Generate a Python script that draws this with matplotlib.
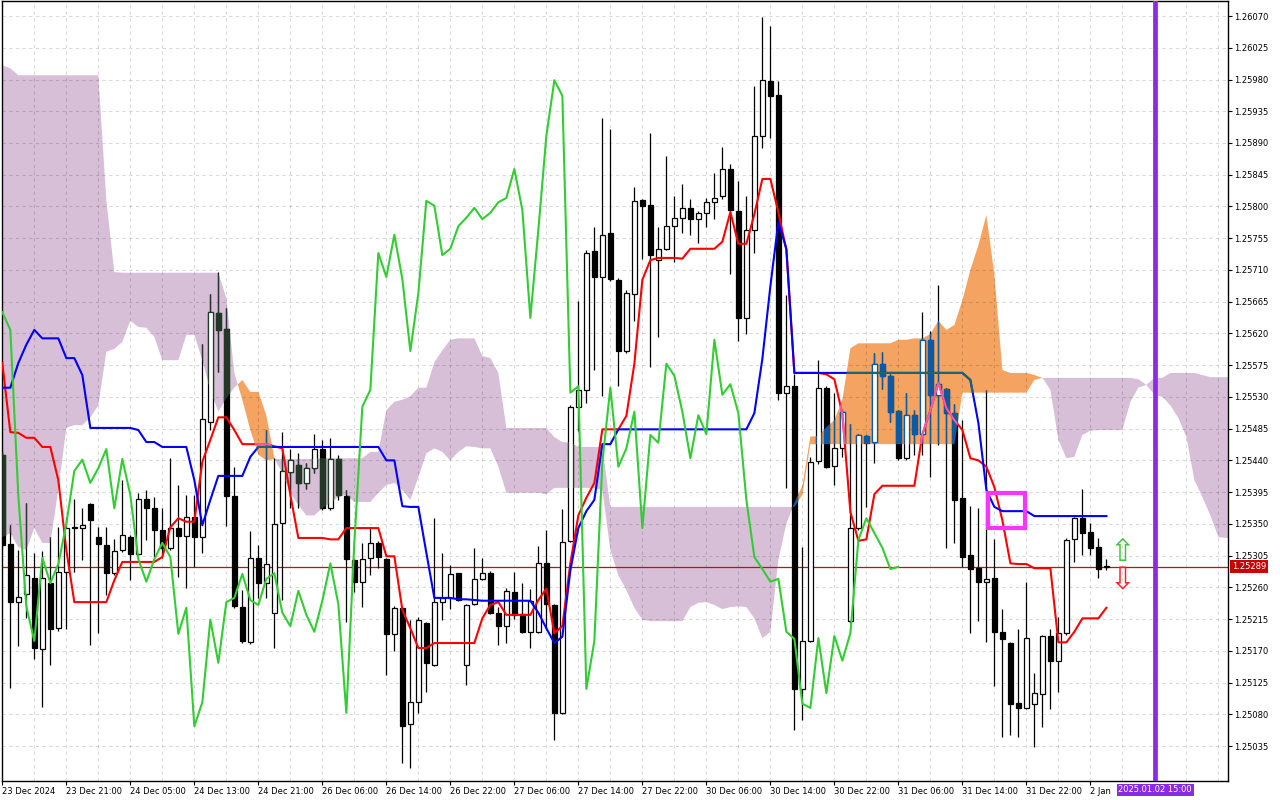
# hourly chart with ichimoku, 23 Dec 2024 - 2 Jan 2025
import numpy as np
import matplotlib.pyplot as plt
from matplotlib.path import Path
from matplotlib.patches import Rectangle
import matplotlib.transforms as mtrans

PT = 1e-5  # all prices below are written in points

opens = [125448, 125321, 125239, 125250, 125273, 125172, 125266, 125202, 125282, 125344,
         125344, 125378, 125331, 125320, 125280, 125313, 125331, 125307, 125385, 125372,
         125341, 125316, 125344, 125333, 125360, 125331, 125494, 125649, 125626, 125390,
         125232, 125182, 125302, 125266, 125224, 125351, 125424, 125433, 125408, 125429,
         125456, 125372, 125442, 125390, 125299, 125268, 125302, 125323, 125300, 125194,
         125231, 125066, 125097, 125209, 125150, 125239, 125245, 125280, 125150, 125236,
         125272, 125280, 125224, 125205, 125253, 125222, 125197, 125197, 125294, 125235,
         125082, 125326, 125516, 125540, 125737, 125700, 125762, 125696, 125595, 125676,
         125809, 125802, 125724, 125740, 125772, 125784, 125798, 125782, 125791, 125806,
         125815, 125853, 125794, 125642, 125767, 125900, 125978, 125958, 125536, 125545,
         125116, 125184, 125439, 125543, 125432, 125457, 125212, 125344, 125474, 125466,
         125577, 125560, 125510, 125443, 125504, 125477, 125611, 125533, 125541, 125507,
         125387, 125306, 125287, 125268, 125273, 125197, 125181, 125096, 125089, 125095,
         125109, 125191, 125156, 125195, 125328, 125358, 125338, 125317, 125290]
highs = [125452, 125348, 125313, 125380, 125309, 125311, 125331, 125345, 125360, 125385,
         125372, 125380, 125345, 125345, 125328, 125412, 125334, 125394, 125398, 125388,
         125372, 125443, 125405, 125391, 125391, 125605, 125676, 125707, 125656, 125431,
         125256, 125340, 125320, 125483, 125443, 125480, 125456, 125450, 125436, 125477,
         125469, 125472, 125448, 125398, 125300, 125323, 125344, 125325, 125302, 125233,
         125233, 125214, 125218, 125211, 125358, 125309, 125292, 125281, 125236, 125316,
         125302, 125283, 125232, 125259, 125282, 125266, 125258, 125319, 125341, 125236,
         125371, 125519, 125666, 125738, 125771, 125925, 125910, 125698, 125681, 125828,
         125810, 125904, 125771, 125872, 125815, 125832, 125811, 125793, 125812, 125847,
         125884, 125860, 125836, 125815, 125971, 126069, 126056, 125978, 125674, 125562,
         125317, 125445, 125582, 125546, 125536, 125511, 125491, 125478, 125476, 125592,
         125594, 125562, 125512, 125536, 125511, 125650, 125623, 125689, 125543, 125520,
         125497, 125375, 125372, 125540, 125328, 125229, 125182, 125201, 125268, 125139,
         125193, 125201, 125218, 125330, 125360, 125399, 125351, 125330, 125300]
lows = [125316, 125117, 125177, 125216, 125158, 125090, 125150, 125198, 125201, 125282,
        125299, 125178, 125195, 125249, 125277, 125310, 125270, 125306, 125327, 125303,
        125302, 125313, 125275, 125259, 125289, 125309, 125483, 125565, 125347, 125230,
        125181, 125180, 125245, 125245, 125174, 125242, 125372, 125372, 125399, 125422,
        125370, 125370, 125384, 125211, 125253, 125232, 125277, 125287, 125136, 125170,
        125011, 125004, 125082, 125112, 125148, 125214, 125229, 125240, 125122, 125235,
        125270, 125222, 125178, 125181, 125215, 125195, 125174, 125195, 125199, 125043,
        125080, 125324, 125482, 125521, 125568, 125531, 125695, 125545, 125592, 125638,
        125726, 125572, 125615, 125738, 125721, 125762, 125760, 125748, 125771, 125782,
        125811, 125704, 125609, 125619, 125734, 125883, 125897, 125526, 125401, 125058,
        125072, 125182, 125435, 125429, 125405, 125445, 125210, 125341, 125374, 125436,
        125541, 125494, 125441, 125441, 125448, 125448, 125416, 125462, 125316, 125323,
        125289, 125195, 125212, 125182, 125120, 125048, 125051, 125048, 125087, 125034,
        125062, 125087, 125112, 125193, 125296, 125306, 125306, 125273, 125284]
closes = [125320, 125239, 125246, 125277, 125174, 125273, 125201, 125282, 125344, 125345,
          125348, 125355, 125321, 125280, 125311, 125334, 125307, 125385, 125372, 125341,
          125316, 125344, 125333, 125360, 125331, 125499, 125650, 125625, 125390, 125233,
          125184, 125302, 125266, 125293, 125350, 125425, 125441, 125408, 125429, 125456,
          125372, 125442, 125391, 125300, 125268, 125300, 125323, 125303, 125194, 125231,
          125063, 125097, 125214, 125153, 125239, 125245, 125279, 125242, 125235, 125272,
          125280, 125224, 125205, 125255, 125221, 125197, 125241, 125294, 125236, 125082,
          125324, 125516, 125540, 125734, 125700, 125760, 125697, 125595, 125677, 125808,
          125801, 125731, 125740, 125772, 125784, 125798, 125782, 125791, 125806, 125812,
          125853, 125795, 125642, 125767, 125900, 125979, 125957, 125536, 125545, 125116,
          125184, 125438, 125543, 125431, 125457, 125509, 125344, 125476, 125465, 125577,
          125560, 125509, 125443, 125504, 125477, 125611, 125533, 125548, 125507, 125384,
          125303, 125286, 125268, 125272, 125197, 125187, 125095, 125089, 125188, 125110,
          125191, 125156, 125195, 125327, 125358, 125337, 125316, 125286, 125289]

tenkan = ([125578, 125480, 125479, 125472, 125472, 125459, 125459, 125412, 125313]
          + [125239] * 5 + [125270] + [125296] * 5
          + [125303, 125345, 125358, 125353, 125353, 125438, 125469, 125501, 125501, 125483]
          + [125463] * 4 + [125460, 125457, 125391] + [125330] * 4 + [125328, 125328]
          + [125344] * 5 + [125304, 125304, 125228, 125202, 125174, 125174] + [125181] * 6
          + [125216, 125235, 125239] + [125221] * 4 + [125242, 125258, 125195]
          + [125205, 125294, 125362, 125387, 125408, 125484, 125484, 125484, 125503, 125577]
          + [125696, 125724, 125727, 125727, 125727, 125726, 125740, 125740, 125740, 125740]
          + [125750, 125792, 125747, 125747, 125789, 125839, 125839, 125792, 125738]
          + [125564] * 4 + [125562, 125555, 125506, 125367, 125326, 125328, 125392]
          + [125404] * 5 + [125477, 125511, 125550, 125514, 125497]
          + [125483, 125443, 125440, 125431, 125402, 125355, 125294, 125293, 125293]
          + [125287] * 3 + [125182, 125182, 125197, 125216, 125216, 125216, 125231])
kijun = ([125543, 125543, 125578, 125604, 125625, 125613, 125613, 125613, 125585, 125585]
         + [125561] + [125486] * 6 + [125483, 125466, 125466]
         + [125459] * 4 + [125412, 125348, 125384] + [125418] * 4 + [125445]
         + [125459] * 16 + [125440, 125440, 125375, 125374, 125374, 125309]
         + [125245] * 3 + [125243, 125243, 125242] + [125241] * 7
         + [125224, 125202, 125181, 125190, 125284, 125344, 125368, 125384, 125463, 125463]
         + [125484] * 17 + [125507, 125584, 125687, 125778, 125740]
         + [125564] * 22 + [125554, 125493, 125398, 125374] + [125368] * 4
         + [125361] * 10)
span_a = [125331, 125337, 125317, 125313, 125344, 125323, 125323, 125398, 125486, 125490,
          125490, 125501, 125518, 125594, 125598, 125608, 125638, 125629, 125628, 125615,
          125582, 125582, 125582, 125618, 125618, 125582, 125540, 125509, 125528, 125543,
          125554, 125537, 125537, 125504, 125443, 125422, 125394, 125377, 125362, 125362,
          125372, 125380, 125388, 125391, 125381, 125381, 125381, 125394, 125405, 125408,
          125398, 125384, 125416, 125450, 125457, 125452, 125440, 125452, 125460, 125459,
          125457, 125457, 125431, 125394, 125394, 125394, 125394, 125394, 125392, 125401,
          125401, 125401, 125401, 125401, 125401, 125398, 125313, 125277, 125256, 125231,
          125214, 125212, 125212, 125212, 125212, 125212, 125232, 125238, 125239, 125235,
          125229, 125232, 125233, 125232, 125216, 125188, 125197, 125299, 125350, 125380,
          125404, 125474, 125474, 125487, 125497, 125526, 125599, 125606, 125606, 125606,
          125606, 125606, 125611, 125611, 125613, 125613, 125619, 125638, 125625, 125632,
          125667, 125710, 125745, 125788, 125703, 125568, 125564, 125564, 125564, 125561,
          125557, 125540, 125469, 125443, 125445, 125476, 125482, 125483, 125483, 125483,
          125483, 125523, 125543, 125547, 125533, 125530, 125518, 125500, 125473, 125412,
          125388, 125362, 125331, 125330, 125330]
span_b = ([126000, 125996] + [125986] * 11 + [125809, 125707] + [125706] * 13
          + [125670, 125564, 125526, 125483, 125448, 125440] + [125442] * 6
          + [125443] * 6 + [125452, 125452, 125511, 125523, 125526, 125531, 125543, 125543]
          + [125579, 125596, 125611] + [125613] * 3 + [125588, 125585, 125564]
          + [125486] * 6 + [125473, 125466, 125465] + [125459] * 4 + [125374] * 24
          + [125391] + [125463] * 19 + [125536] * 9 + [125554] + [125557] * 12
          + [125555, 125547, 125557, 125557] + [125564] * 4 + [125561] + [125558] * 4)

last_price = 125289
tick_labels = ['23 Dec 2024', '23 Dec 21:00', '24 Dec 05:00', '24 Dec 13:00', '24 Dec 21:00',
               '26 Dec 06:00', '26 Dec 14:00', '26 Dec 22:00', '27 Dec 06:00', '27 Dec 14:00',
               '27 Dec 22:00', '30 Dec 06:00', '30 Dec 14:00', '30 Dec 22:00', '31 Dec 06:00',
               '31 Dec 14:00', '31 Dec 22:00', '2 Jan']
price_ticks = [125035, 125080, 125125, 125170, 125215, 125260, 125305, 125350, 125395, 125440,
               125485, 125530, 125575, 125620, 125665, 125710, 125755, 125800, 125845, 125890,
               125935, 125980, 126025, 126070]
marker_bar, marker_label = 144.1, '2025.01.02 15:00'
box_bars, box_prices = (123.2, 127.8), (125344, 125394)
arrow_bar, arrow_up, arrow_down = 140, 125310, 125269

o, h, l, c = (np.array(v) * PT for v in (opens, highs, lows, closes))
tenkan, kijun = np.array(tenkan) * PT, np.array(kijun) * PT
span_a, span_b = np.array(span_a) * PT, np.array(span_b) * PT
x = np.arange(len(o))
xc = np.arange(len(span_a))
chikou = c[26:]

fig = plt.figure(figsize=(12.8, 8), dpi=100)
ax = fig.add_axes([2 / 1280, 19 / 800, 1226 / 1280, 780 / 800])

purple = ax.fill_between(xc, span_a, span_b, where=span_b >= span_a, interpolate=True,
                         facecolor='#d8bfd8', edgecolor='none', zorder=1)
orange = ax.fill_between(xc, span_a, span_b, where=span_a >= span_b, interpolate=True,
                         facecolor='#f4a460', edgecolor='none', zorder=1)
purple_path = Path.make_compound_path(*purple.get_paths())
orange_path = Path.make_compound_path(*orange.get_paths())

bull = c >= o
lo, hi = np.minimum(o, c), np.maximum(o, c)


def candles(edge, bear_fill, clip=None):
    w = ax.vlines(x, l, h, colors=edge, lw=0.9, zorder=3)
    fills = ['white' if b else bear_fill for b in bull]
    bars = ax.bar(x, hi - lo, 0.56, bottom=lo, color=fills, edgecolor=edge, lw=0.9, zorder=3.5)
    if clip is not None:
        w.set_clip_path(clip, ax.transData)
        for r in bars:
            r.set_clip_path(clip, ax.transData)


candles('black', 'black')
candles('#233826', '#233826', purple_path)
candles('#0c5aa2', '#0c5aa2', orange_path)

ax.axhline(last_price * PT, color='#e00000', lw=0.9, zorder=2)

ax.plot(x, tenkan, color='#ff0000', lw=1.5, zorder=5)
tk2, = ax.plot(x, tenkan, color='#f25aae', lw=1.5, zorder=5.1)
tk2.set_clip_path(orange_path, ax.transData)
ax.plot(x, kijun, color='#0000ff', lw=1.5, zorder=6)
kj2, = ax.plot(x, kijun, color='#1d6870', lw=1.5, zorder=6.1)
kj2.set_clip_path(orange_path, ax.transData)
ax.plot(np.arange(len(chikou)), chikou, color='#32cd32', lw=1.5, zorder=7)

ax.add_patch(Rectangle((box_bars[0], box_prices[0] * PT), box_bars[1] - box_bars[0],
                       (box_prices[1] - box_prices[0]) * PT, fill=False,
                       edgecolor='#ff33ff', lw=3, zorder=8))
ax.axvline(marker_bar, color='#8a2be2', lw=3.4, zorder=8)
ax.text(arrow_bar, arrow_up * PT, '\u21e7', color='#3fc43f', fontsize=22,
        ha='center', va='center', zorder=9)
ax.text(arrow_bar, arrow_down * PT, '\u21e9', color='#ff2020', fontsize=22,
        ha='center', va='center', zorder=9)

ax.set_xlim(-0.04, 153.2)
ax.set_ylim(1.249854, 1.260913)

ax.set_xticks(np.arange(len(tick_labels)) * 8)
ax.set_xticklabels(tick_labels)
ax.set_xticks(np.arange(0, 154, 4), minor=True)
for t in ax.get_xticklabels():
    t.set_horizontalalignment('left')
ax.yaxis.tick_right()
ax.set_yticks(np.array(price_ticks) * PT)
ax.set_yticklabels(['%.5f' % (p * PT) for p in price_ticks])
ax.tick_params(which='major', direction='out', length=3, width=0.8, labelsize=6, pad=1.5)
ax.tick_params(which='minor', length=0)
ax.set_axisbelow('line')
grid_style = dict(color='black', alpha=0.15, linestyle='--', dashes=(3, 3), linewidth=0.8)
ax.grid(which='both', axis='x', **grid_style)
ax.grid(which='major', axis='y', **grid_style)
for s in ax.spines.values():
    s.set_linewidth(1)

ax.text(1.003, last_price * PT, '%.5f' % (last_price * PT),
        transform=mtrans.blended_transform_factory(ax.transAxes, ax.transData),
        fontsize=6, color='white', ha='left', va='center', zorder=10, clip_on=False,
        bbox=dict(boxstyle='square,pad=0.25', fc='#c80000', ec='none'))
ax.annotate(marker_label, xy=(marker_bar, 0), xycoords=('data', 'axes fraction'),
            xytext=(0, -3), textcoords='offset points', ha='center', va='top',
            fontsize=6, color='white', annotation_clip=False,
            bbox=dict(boxstyle='square,pad=0.2', fc='#8a2be2', ec='none'))

fig.savefig('out.png', dpi=100)
